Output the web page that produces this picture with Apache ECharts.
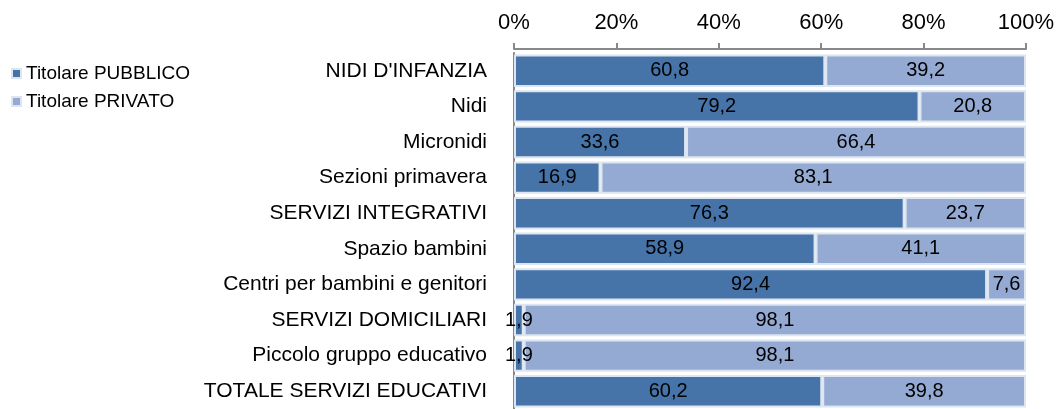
<!DOCTYPE html>
<html><head><meta charset="utf-8">
<script src="https://cdn.jsdelivr.net/npm/echarts@6/dist/echarts.min.js"></script>
<style>html,body{margin:0;padding:0;background:#fff}#c{width:1061px;height:409px}</style>
</head><body><div id="c"></div>
<script>
const categories = ["NIDI D'INFANZIA","Nidi","Micronidi","Sezioni primavera","SERVIZI INTEGRATIVI","Spazio bambini","Centri per bambini e genitori","SERVIZI DOMICILIARI","Piccolo gruppo educativo","TOTALE SERVIZI EDUCATIVI"];
const pubblico = [60.8,79.2,33.6,16.9,76.3,58.9,92.4,1.9,1.9,60.2];
const privato = [39.2,20.8,66.4,83.1,23.7,41.1,7.6,98.1,98.1,39.8];
const seriesNames = ["Titolare PUBBLICO","Titolare PRIVATO"];
const font = "Liberation Sans";
const fmt = p => p.value.toFixed(1).replace('.', ',');
const chart = echarts.init(document.getElementById('c'), null, {renderer:'canvas'});
chart.setOption({
  animation:false,
  textStyle:{fontFamily:font},
  legend:{orient:'vertical',left:11,top:64,itemWidth:9,itemHeight:9,itemGap:9,padding:0,
    textStyle:{fontSize:19,lineHeight:19,color:'#000',fontFamily:font},
    data:seriesNames.map(n=>({name:n,icon:'rect'}))},
  grid:{left:514,right:35,top:53,bottom:-2,containLabel:false},
  xAxis:{type:'value',position:'top',min:0,max:100,interval:20,offset:4,
    axisLine:{show:true,lineStyle:{color:'#888',width:2}},
    axisTick:{show:true,length:6,lineStyle:{color:'#888',width:2}},
    splitLine:{show:false},
    axisLabel:{formatter:'{value}%',fontSize:22,color:'#000',fontFamily:font,margin:15}},
  yAxis:{type:'category',inverse:true,data:categories,
    axisLine:{show:true,lineStyle:{color:'#888',width:2}},
    axisTick:{show:false},
    axisLabel:{fontSize:21,color:'#000',fontFamily:font,margin:27}},
  series:[
    {name:seriesNames[0],type:'bar',stack:'t',data:pubblico,barCategoryGap:'9%',
     itemStyle:{color:'#4673A8',borderColor:'#DCE5F0',borderWidth:2},
     label:{show:true,position:'inside',formatter:fmt,fontSize:20,color:'#000',fontFamily:font}},
    {name:seriesNames[1],type:'bar',stack:'t',data:privato,barCategoryGap:'9%',
     itemStyle:{color:'#94AAD3',borderColor:'#DCE5F0',borderWidth:2},
     label:{show:true,position:'inside',formatter:fmt,fontSize:20,color:'#000',fontFamily:font}}
  ]
});
</script></body></html>
